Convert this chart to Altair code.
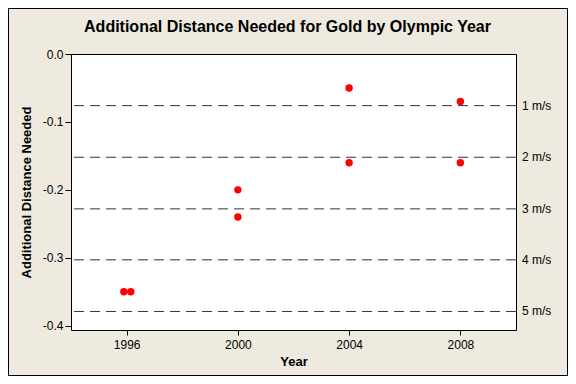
import altair as alt
import pandas as pd

years = [1995.9, 1996.15, 2000, 2000, 2004, 2004, 2008, 2008]
dist = [-0.35, -0.35, -0.20, -0.24, -0.05, -0.16, -0.07, -0.16]
wind_labels = ["1 m/s", "2 m/s", "3 m/s", "4 m/s", "5 m/s"]
wind_values = [-0.076, -0.152, -0.228, -0.303, -0.379]
x_ticks = [1996, 2000, 2004, 2008]
y_ticks = [-0.4, -0.3, -0.2, -0.1, 0.0]
title_text = ["Additional Distance Needed for Gold by Olympic Year"]

W, H = 445, 276
FONT = "Liberation Sans"

pts = pd.DataFrame({"Year": years, "Dist": dist})
winds = pd.DataFrame({"label": wind_labels, "v": wind_values})

xscale = alt.Scale(domain=[1994, 2010], nice=False, zero=False)
yscale = alt.Scale(domain=[-0.4063, 0.0], nice=False, zero=False)

points = alt.Chart(pts).mark_circle(size=55, color="#ff0000", opacity=1).encode(
    x=alt.X("Year:Q", scale=xscale,
            axis=alt.Axis(values=x_ticks, format="d", title="Year", grid=False,
                          domain=False, tickColor="black", tickSize=5,
                          labelFont=FONT, labelFontSize=12, labelColor="black",
                          labelPadding=4,
                          titleFont=FONT, titleFontSize=13, titleFontWeight="bold",
                          titleColor="black", titlePadding=5)),
    y=alt.Y("Dist:Q", scale=yscale,
            axis=alt.Axis(values=y_ticks, title="Additional Distance Needed", grid=False,
                          labelExpr="datum.value == 0 ? '0.0' : '-0.' + toString(round(-datum.value*10))",
                          domain=False, tickColor="black", tickSize=6,
                          labelFont=FONT, labelFontSize=12, labelColor="black",
                          labelPadding=2,
                          titleFont=FONT, titleFontSize=13, titleFontWeight="bold",
                          titleColor="black", titlePadding=9)),
)

rules = alt.Chart(winds).mark_rule(color="#333333", strokeDash=[10, 6], strokeWidth=1).encode(
    y=alt.Y("v:Q", scale=yscale)
)

labels = alt.Chart(winds).mark_text(align="left", baseline="middle", font=FONT,
                                    fontSize=12, color="black", dx=0).encode(
    x=alt.value(W + 6),
    y=alt.Y("v:Q", scale=yscale),
    text="label:N",
)

title = alt.Chart(pd.DataFrame({"t": title_text})).mark_text(
    align="center", baseline="middle", font=FONT, fontSize=16, fontWeight="bold",
    color="black").encode(
    x=alt.value(W / 2 - 6), y=alt.value(-27), text="t:N")

frame = alt.Chart(pd.DataFrame({"a": [0]})).mark_rect(filled=False, stroke="black",
                                                       strokeWidth=1).encode(
    x=alt.value(-62.5), x2=alt.value(W + 51.5),
    y=alt.value(-45.5), y2=alt.value(H + 45.5),
)

chart = alt.layer(rules, points, labels, title, frame).properties(
    width=W, height=H,
    padding={"left": 63, "top": 46, "right": 52, "bottom": 46},
    autosize=alt.AutoSizeParams(type="none"),
    background="#eeeadf",
).configure_view(stroke="black", strokeWidth=1, fill="white")

chart.save("out.html", embed_options={"renderer": "svg", "actions": False})
